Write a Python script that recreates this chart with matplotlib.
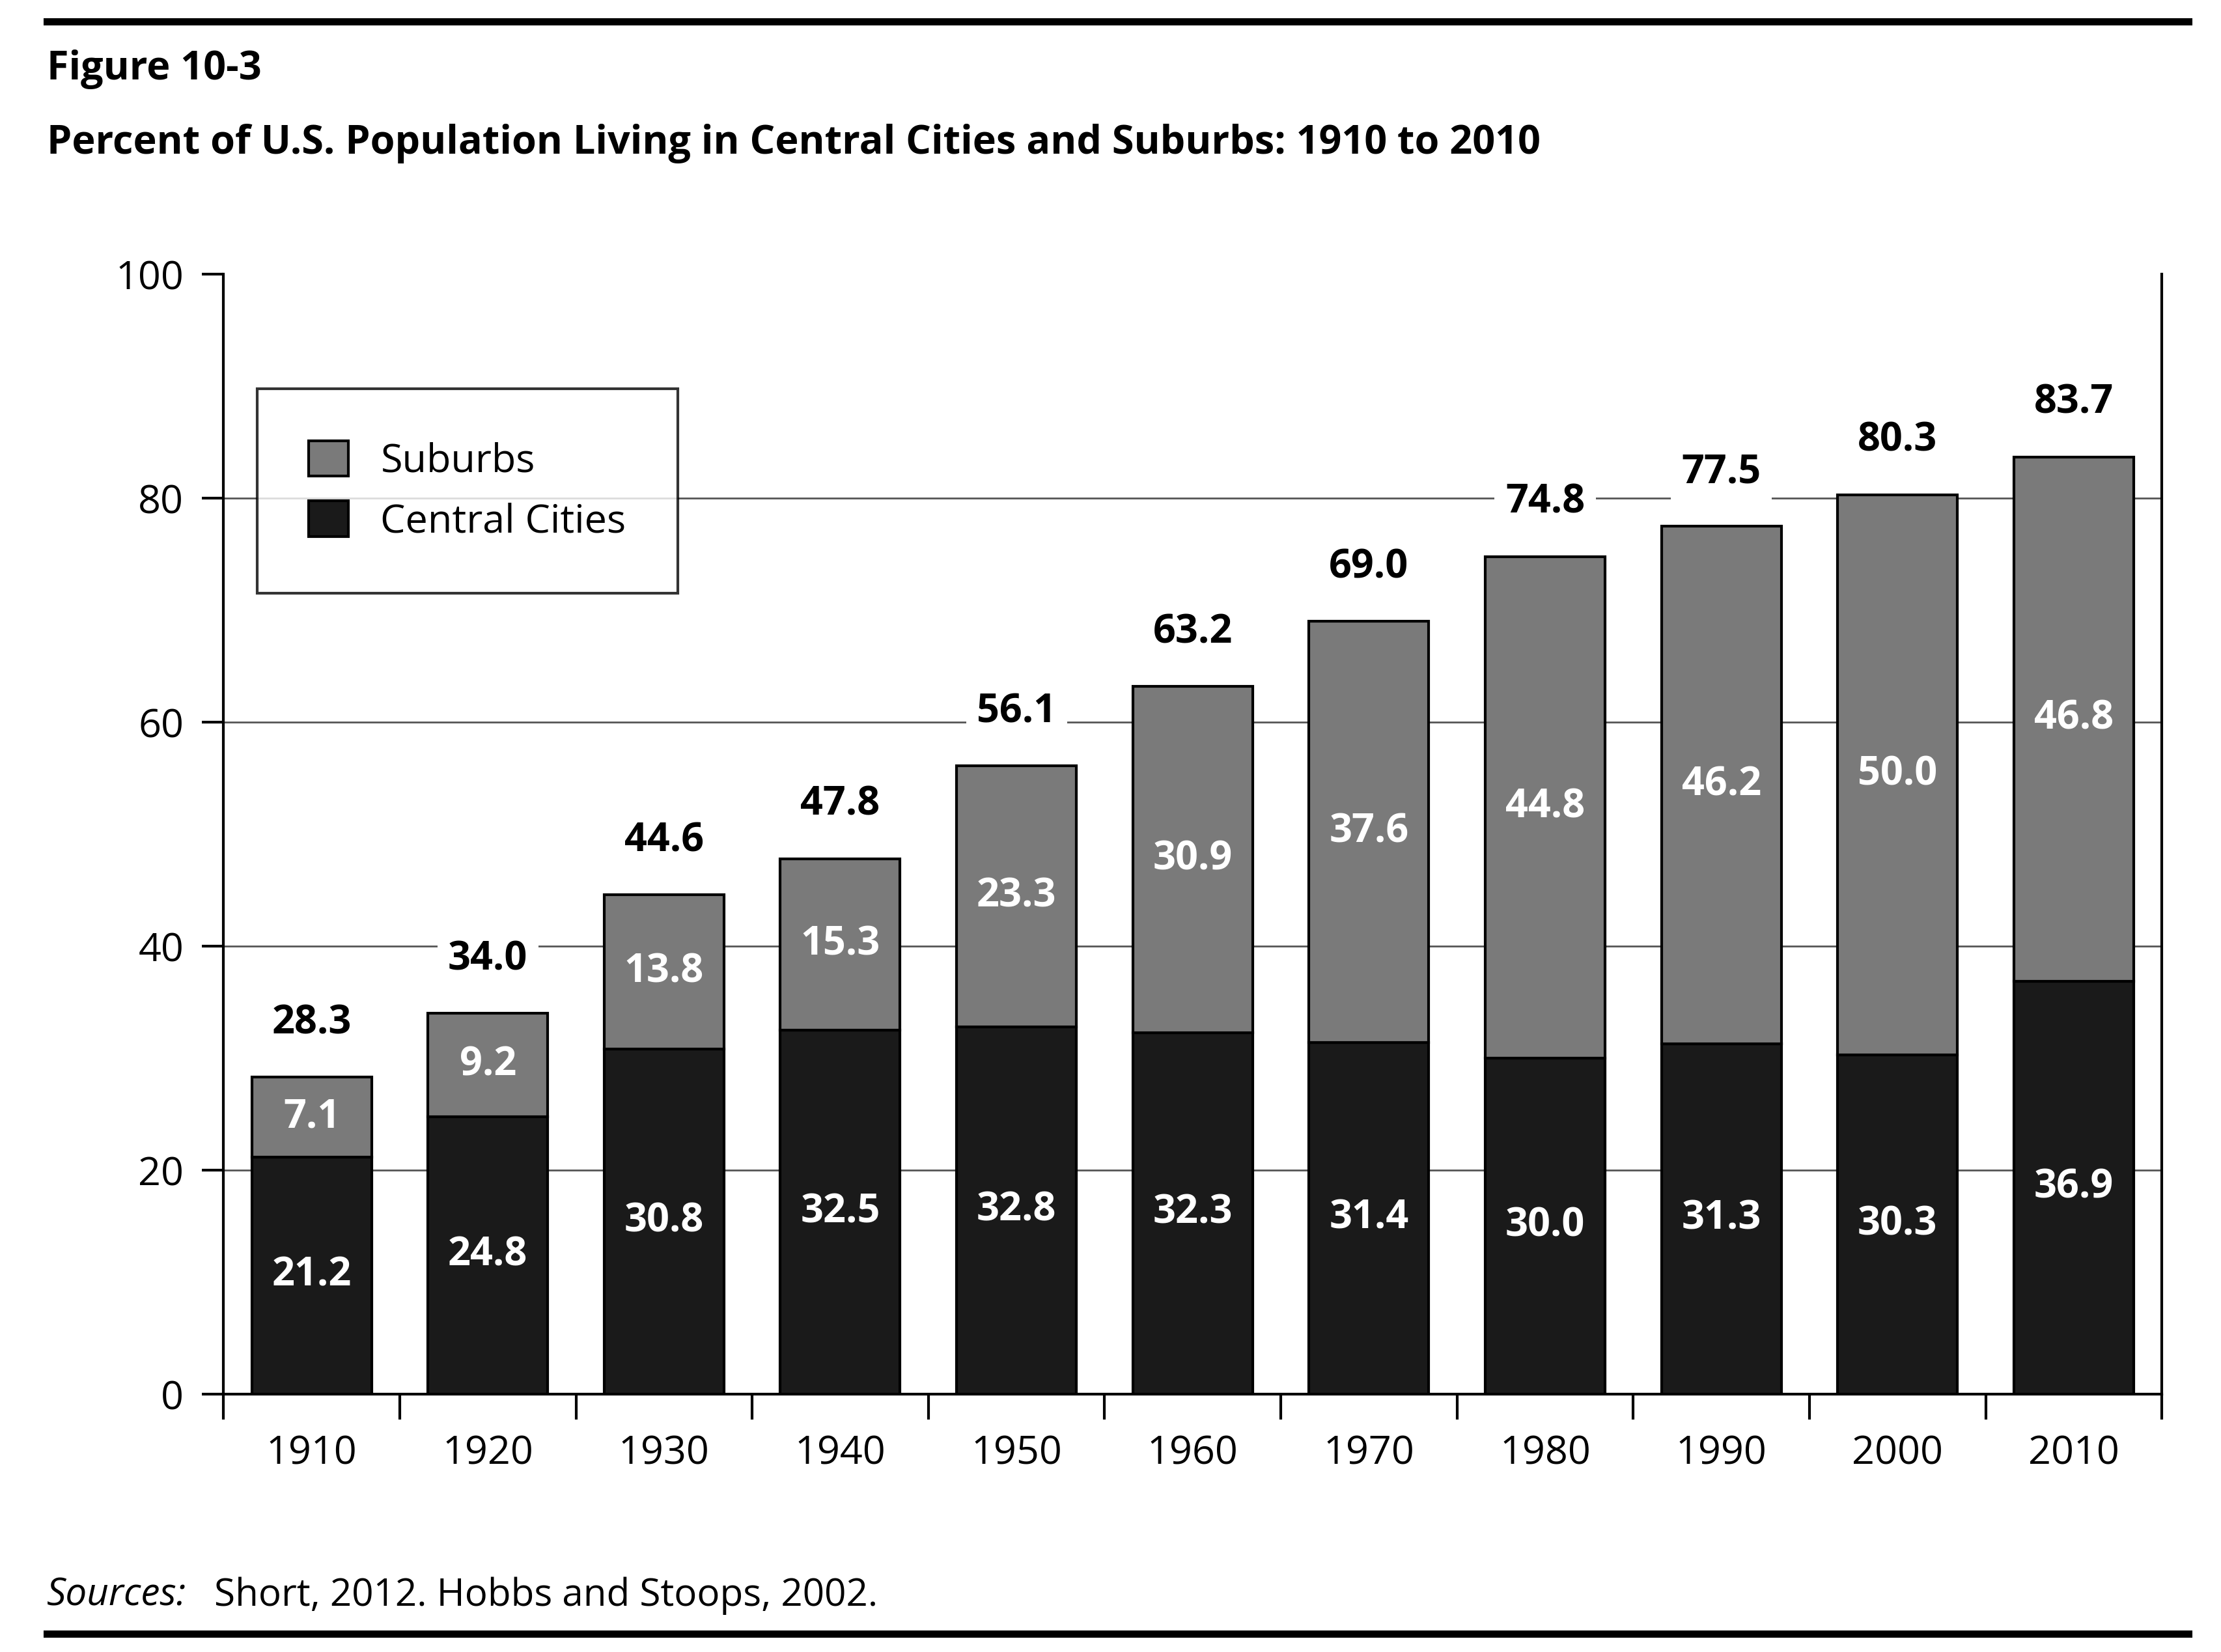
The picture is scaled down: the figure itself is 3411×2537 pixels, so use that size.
import matplotlib
matplotlib.use("Agg")
import matplotlib.pyplot as plt
import numpy as np

years = ["1910","1920","1930","1940","1950","1960","1970","1980","1990","2000","2010"]
central = [21.2,24.8,30.8,32.5,32.8,32.3,31.4,30.0,31.3,30.3,36.9]
suburbs = [7.1,9.2,13.8,15.3,23.3,30.9,37.6,44.8,46.2,50.0,46.8]
totals = ["28.3","34.0","44.6","47.8","56.1","63.2","69.0","74.8","77.5","80.3","83.7"]

plt.rcParams['font.family'] = ['Open Sans', 'DejaVu Sans']
fig = plt.figure(figsize=(17.06, 12.685), dpi=200)
ax = fig.add_axes([0.1006, 0.156, 0.8725, 0.678])

x = np.arange(len(years))
w = 0.68
c_dark = '#1a1a1a'
c_grey = '#7a7a7a'
ax.bar(x, central, w, color=c_dark, edgecolor='black', linewidth=1.5, label='Central Cities', zorder=3)
ax.bar(x, suburbs, w, bottom=central, color=c_grey, edgecolor='black', linewidth=1.5, label='Suburbs', zorder=3)

for i in range(len(x)):
    ax.text(x[i], central[i]/2, f"{central[i]:.1f}", ha='center', va='center', color='white',
            fontsize=22, fontweight='bold', zorder=4)
    ax.text(x[i], central[i]+suburbs[i]/2, f"{suburbs[i]:.1f}", ha='center', va='center', color='white',
            fontsize=22, fontweight='bold', zorder=4)
    ax.text(x[i], central[i]+suburbs[i]+4.8, totals[i], ha='center', va='center', color='black',
            fontsize=22, fontweight='bold', zorder=4,
            bbox=dict(facecolor='white', edgecolor='none', pad=6))

ax.set_ylim(0, 100)
ax.set_xlim(-0.5, len(x)-0.5)
ax.set_yticks([0,20,40,60,80,100])
ax.tick_params(axis='y', labelsize=22, length=12, width=1.5, pad=10)
ax.set_xticks(np.arange(-0.5, len(x)+0.5, 1))
ax.set_xticklabels([])
ax.set_xticks(x, minor=True)
ax.set_xticklabels(years, minor=True, fontsize=22)
ax.tick_params(axis='x', which='major', length=14, width=1.5, direction='out')
ax.tick_params(axis='x', which='minor', length=0, pad=22)
for yv in [20,40,60,80]:
    ax.axhline(yv, color='#555555', linewidth=1, zorder=1)
ax.spines['top'].set_visible(False)
for s in ['left','right','bottom']:
    ax.spines[s].set_linewidth(1.5)

h, l = ax.get_legend_handles_labels()
leg = ax.legend(h[::-1], l[::-1], loc='upper left', bbox_to_anchor=(0.0235, 0.887),
                fontsize=22, frameon=True, fancybox=False, edgecolor='black',
                borderpad=1.0, labelspacing=0.5, handlelength=1.0, handleheight=1.0,
                borderaxespad=0)
leg.get_frame().set_linewidth(1.5)
leg.set_zorder(5)
leg.get_frame().set_boxstyle('square', pad=0.3)

fig.add_artist(plt.Line2D([0.021, 0.985], [0.987, 0.987], color='black', linewidth=4))
fig.add_artist(plt.Line2D([0.021, 0.985], [0.011, 0.011], color='black', linewidth=4))
fig.text(0.021, 0.958, "Figure 10-3", fontsize=22, fontweight='bold', va='center')
fig.text(0.021, 0.913, "Percent of U.S. Population Living in Central Cities and Suburbs: 1910 to 2010",
         fontsize=22, fontweight='bold', va='center')
fig.text(0.021, 0.034, "Sources:", fontsize=21, fontstyle='italic', va='center')
fig.text(0.0965, 0.034, "Short, 2012. Hobbs and Stoops, 2002.", fontsize=21, va='center')

fig.savefig("out.png", dpi=200)
